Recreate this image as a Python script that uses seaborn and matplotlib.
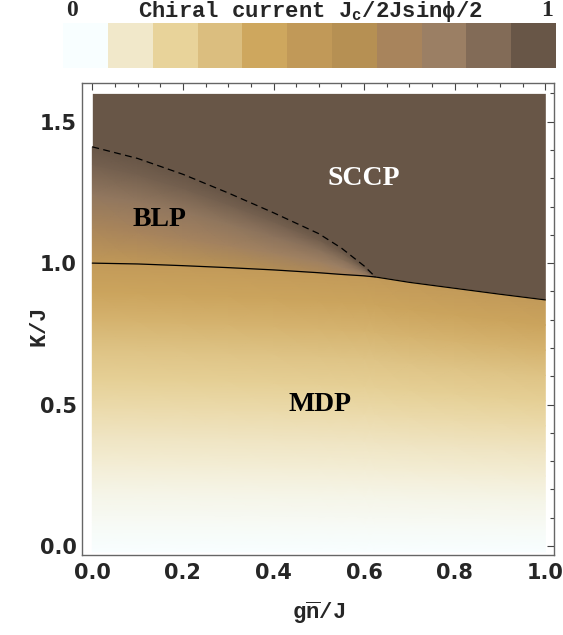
import numpy as np
import matplotlib
matplotlib.use("Agg")
import matplotlib.pyplot as plt
from matplotlib.colors import ListedColormap
import seaborn as sns

# colour steps of the legend bar (value 0 ... 1)
cbar_colors = ["#F8FEFF", "#F1E8CA", "#E8D39A", "#DBBE7F", "#CEA75E", "#C19958",
               "#B69053", "#A8845C", "#9B7F64", "#826B57", "#685647"]

# solid line: MDP boundary
x_solid = [0.0, 0.1, 0.2, 0.3, 0.4, 0.5, 0.55, 0.6, 0.625, 0.7, 0.8, 0.9, 1.0]
k_solid = [1.000, 0.997, 0.991, 0.984, 0.976, 0.966, 0.960, 0.955, 0.951, 0.932, 0.911, 0.890, 0.870]

# dashed line: BLP / SCCP boundary
x_dash = [0.0, 0.1, 0.2, 0.3, 0.4, 0.5, 0.55, 0.6, 0.625]
k_dash = [1.411, 1.370, 1.314, 1.248, 1.178, 1.104, 1.053, 0.990, 0.951]

# MDP: chiral current vs fraction of height below the solid line
mdp_frac = [0.0, 0.1, 0.2, 0.3, 0.4, 0.5, 0.6, 0.7, 0.8, 0.9, 1.0]
mdp_vals = [0.0, 0.02, 0.045, 0.08, 0.12, 0.165, 0.22, 0.28, 0.35, 0.42, 0.49]

# BLP: rows = fraction between solid (0) and dashed (1), columns = x_dash
blp_frac = [0.0, 0.3, 0.6, 0.85, 1.0]
blp_vals = [[0.50, 0.52, 0.55, 0.58, 0.62, 0.66, 0.70, 0.74, 0.78],
            [0.68, 0.70, 0.72, 0.74, 0.76, 0.78, 0.80, 0.83, 0.88],
            [0.84, 0.84, 0.84, 0.85, 0.86, 0.87, 0.88, 0.90, 0.93],
            [0.95, 0.95, 0.95, 0.95, 0.95, 0.96, 0.96, 0.97, 0.98],
            [1.00, 1.00, 1.00, 1.00, 1.00, 1.00, 1.00, 1.00, 1.00]]

sns.set_style("white")
plt.rcParams["mathtext.fontset"] = "custom"
plt.rcParams["mathtext.rm"] = "Liberation Mono:bold"
plt.rcParams["mathtext.it"] = "Liberation Mono:bold"
plt.rcParams["mathtext.bf"] = "Liberation Mono:bold"

cmap = sns.blend_palette(cbar_colors, as_cmap=True)

fig = plt.figure(figsize=(5.63, 6.35), dpi=100, facecolor="white")
ax = fig.add_axes([0.1462, 0.1260, 0.8384, 0.7428])
cax = fig.add_axes([0.1124, 0.8934, 0.8751, 0.0709])

y_bot, y_top = -0.02, 1.6

# dark SCCP background above the solid line
ax.fill_between(x_solid, k_solid, y_top, color=cmap(1.0), lw=0, zorder=1)

# MDP mesh below the solid line
xs = np.array(x_solid)
ks = np.array(k_solid)
fr = np.array(mdp_frac)[:, None]
X_low = np.tile(xs, (len(mdp_frac), 1))
Y_low = y_bot + fr * (ks[None, :] - y_bot)
C_low = np.tile(np.array(mdp_vals)[:, None], (1, len(x_solid)))
ax.pcolormesh(X_low, Y_low, C_low, cmap=cmap, vmin=0, vmax=1, shading="gouraud", zorder=2)

# BLP mesh between solid and dashed
xd = np.array(x_dash)
kd = np.array(k_dash)
kc = ks[:len(x_dash)]
bf = np.array(blp_frac)[:, None]
X_blp = np.tile(xd, (len(blp_frac), 1))
Y_blp = kc[None, :] + bf * (kd - kc)[None, :]
ax.pcolormesh(X_blp, Y_blp, np.array(blp_vals), cmap=cmap, vmin=0, vmax=1,
              shading="gouraud", zorder=2)

ax.plot(x_solid, k_solid, color="black", lw=0.9, zorder=4)
ax.plot(x_dash, k_dash, color="black", lw=0.9, ls=(0, (5.5, 3.5)), zorder=4)

serif = dict(family="Liberation Serif", fontweight="bold", fontsize=20, ha="center", va="center")
ax.text(0.60, 1.30, "SCCP", color="white", zorder=5, **serif)
ax.text(0.149, 1.155, "BLP", color="black", zorder=5, **serif)
ax.text(0.503, 0.50, "MDP", color="black", zorder=5, **serif)

ax.set_xlim(-0.0221, 1.0199)
ax.set_ylim(-0.0318, 1.6356)
ax.set_xticks([0.0, 0.2, 0.4, 0.6, 0.8, 1.0])
ax.set_yticks([0.0, 0.5, 1.0, 1.5])
ax.set_xticks(np.arange(0, 1.0001, 0.05), minor=True)
ax.set_yticks(np.arange(0, 1.6001, 0.1), minor=True)
ax.set_xticklabels(["0.0", "0.2", "0.4", "0.6", "0.8", "1.0"])
ax.set_yticklabels(["0.0", "0.5", "1.0", "1.5"])
ax.tick_params(which="both", direction="in", top=True, right=True, color="#444444", width=0.8)
ax.tick_params(which="major", length=5)
ax.tick_params(which="minor", length=3)
ax.tick_params(axis="x", pad=6)
ax.tick_params(axis="y", pad=4)
for lab in ax.get_xticklabels() + ax.get_yticklabels():
    lab.set_family("DejaVu Sans")
    lab.set_fontweight("bold")
    lab.set_fontsize(15)
for sp in ax.spines.values():
    sp.set_visible(True)
    sp.set_color("#666666")
    sp.set_linewidth(1.0)

ax.set_xlabel(r"$\mathrm{g\overline{n}/J}$", fontsize=16)
ax.set_ylabel(r"$\mathrm{K/J}$", fontsize=16)
ax.xaxis.set_label_coords(0.5, -0.123)
ax.yaxis.set_label_coords(-0.0896, 0.48)
ax.xaxis.label.set_va("center")
ax.yaxis.label.set_va("center")

# legend bar
sns.heatmap(np.arange(len(cbar_colors)).reshape(1, -1), cmap=ListedColormap(cbar_colors),
            cbar=False, ax=cax, xticklabels=False, yticklabels=False)
cax.set_xticks([])
cax.set_yticks([])

fig.text(72 / 563, 1 - 11 / 635, "0", family="Liberation Serif", fontweight="bold",
         fontsize=17, ha="center", va="center")
fig.text(547 / 563, 1 - 11 / 635, "1", family="Liberation Serif", fontweight="bold",
         fontsize=17, ha="center", va="center")
fig.text(310 / 563, 1 - 11 / 635, r"Chiral current $\mathrm{J_c}$/2Jsinϕ/2",
         family=["Liberation Mono", "DejaVu Sans Mono"], fontweight="bold",
         fontsize=16, ha="center", va="center")

fig.savefig("out.png", dpi=100)
